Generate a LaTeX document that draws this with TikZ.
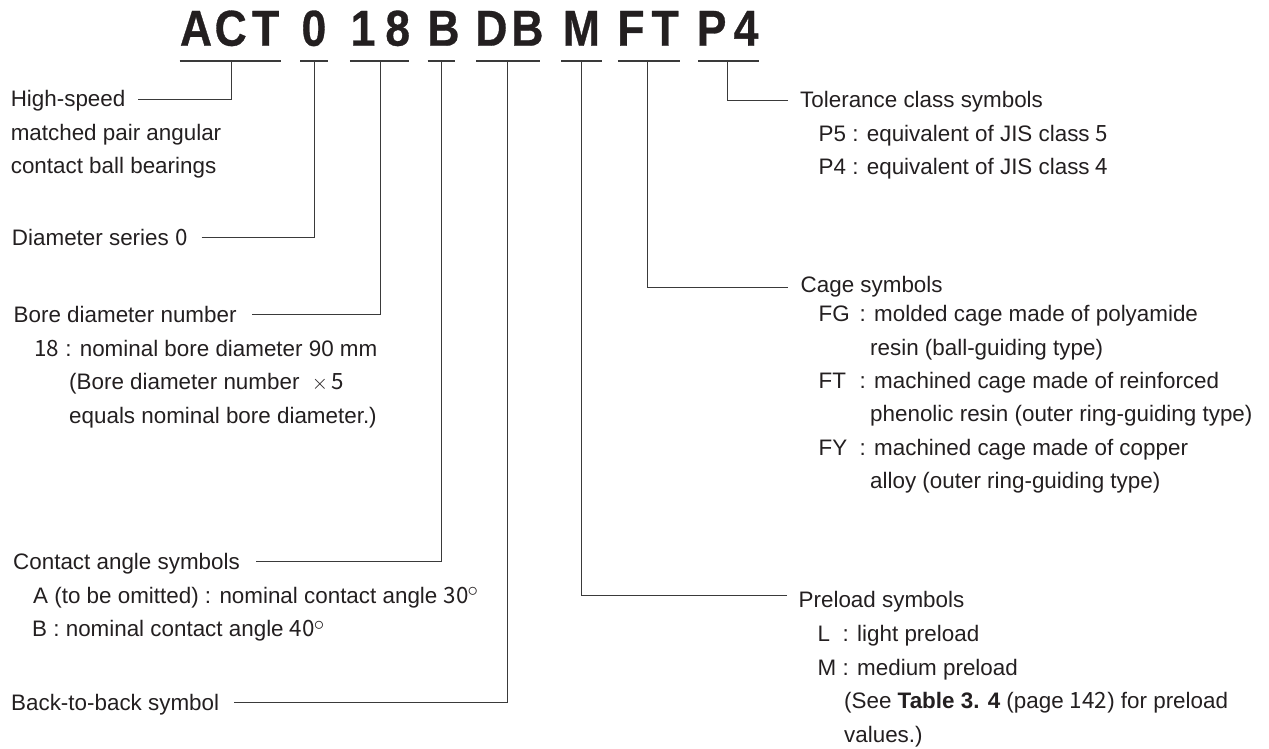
\documentclass[tikz,border=0pt]{standalone}
\usepackage{fontspec}
\setmainfont{Liberation Sans}
\newfontfamily\jd{Noto Sans CJK JP}
\newfontfamily\titlefont{Liberation Sans Bold}[FakeStretch=0.88,FakeBold=0.6]
\definecolor{ink}{HTML}{231F20}
\definecolor{wirec}{HTML}{3A3A3A}
\newcommand{\degr}{\kern-1pt\raisebox{6.5pt}{\fontsize{20}{20}\selectfont$\circ$}}
\begin{document}
\begin{tikzpicture}[x=1pt,y=-1pt,
  lbl/.style={anchor=base west, inner sep=0pt, font=\fontsize{22.4}{26}\selectfont, text=ink},
  big/.style={anchor=base, inner sep=0pt, font=\titlefont\fontsize{50.5}{50}\selectfont, text=ink},
  wire/.style={draw=wirec, line width=1.3pt},
  bar/.style={draw=wirec, line width=1.5pt}]
\useasboundingbox (0,0) rectangle (1269,748);

% ---- title letters ----
\node[big] (tA)  at (196,45.7)   {A};
\node[big] (tC)  at (230.7,45.7) {C};
\node[big] (tT)  at (265.7,45.7) {T};
\node[big] (t0)  at (313.9,45.7) {0};
\node[big] (t1)  at (363,45.7)   {1};
\node[big] (t8)  at (397.7,45.7) {8};
\node[big] (tB)  at (443.5,45.7) {B};
\node[big] (tD)  at (491.4,45.7) {D};
\node[big] (tBB) at (527.4,45.7) {B};
\node[big] (tM)  at (581.4,45.7) {M};
\node[big] (tF)  at (631,45.7)   {F};
\node[big] (tTT) at (665.2,45.7) {T};
\node[big] (tP)  at (711.6,45.7) {P};
\node[big] (t4)  at (746,45.7)   {4};

% ---- underline bars ----
\coordinate (actL) at (179.6,61); \coordinate (actR) at (281,61);   \coordinate (actV) at (231.2,61);
\coordinate (zerL) at (300,61);   \coordinate (zerR) at (327.7,61); \coordinate (zerV) at (314.3,61);
\coordinate (borL) at (349.9,61); \coordinate (borR) at (409.2,61); \coordinate (borV) at (380.5,61);
\coordinate (angL) at (427.6,61); \coordinate (angR) at (455,61);   \coordinate (angV) at (441.7,61);
\coordinate (dbL)  at (476,61);   \coordinate (dbR)  at (540.4,61); \coordinate (dbV)  at (507.5,61);
\coordinate (preL) at (561,61);   \coordinate (preR) at (601.7,61); \coordinate (preV) at (581.4,61);
\coordinate (cagL) at (617.8,61); \coordinate (cagR) at (680.1,61); \coordinate (cagV) at (647.6,61);
\coordinate (tolL) at (698.1,61); \coordinate (tolR) at (759.4,61); \coordinate (tolV) at (727.6,61);
\draw[bar] (actL) -- (actR);
\draw[bar] (zerL) -- (zerR);
\draw[bar] (borL) -- (borR);
\draw[bar] (angL) -- (angR);
\draw[bar] (dbL) -- (dbR);
\draw[bar] (preL) -- (preR);
\draw[bar] (cagL) -- (cagR);
\draw[bar] (tolL) -- (tolR);

% ---- left labels ----
\node[lbl] (hs1) at (10.6,106.5) {High-speed};
\node[lbl] (hs2) at (10.6,140)   {matched pair angular};
\node[lbl] (hs3) at (10.6,173.5) {contact ball bearings};

\node[lbl] (dia) at (11.8,245.5) {Diameter series {\jd 0}};

\node[lbl] (bo1) at (13.5,322.5) {Bore diameter number};
\node[lbl] (bo2) at (34,356)     {{\jd 18} : nominal bore diameter 90 mm};
\node[lbl] (bo3) at (69,389.5)   {(Bore diameter number\ \ $\times$\,{\jd 5}};
\node[lbl] (bo4) at (69,423)     {equals nominal bore diameter.)};

\node[lbl] (ca1) at (13,569.5) {Contact angle symbols};
\node[lbl] (ca2) at (33,603)   {A (to be omitted) : nominal contact angle {\jd 30}\degr};
\node[lbl] (ca3) at (32,636.5) {B : nominal contact angle {\jd 40}\degr};

\node[lbl] (btb) at (11,710.5) {Back-to-back symbol};

% ---- right labels ----
\node[lbl] (to1) at (800,107.5)  {Tolerance class symbols};
\node[lbl] (to2) at (818.5,141)  {P5 : equivalent of JIS class {\jd 5}};
\node[lbl] (to3) at (818.5,174.5){P4 : equivalent of JIS class {\jd 4}};

\node[lbl] (cg0) at (800.5,292.5){Cage symbols};
\node[lbl] (cg1) at (818.5,321.5){\makebox[41pt][l]{FG}: molded cage made of polyamide};
\node[lbl] (cg2) at (870,355)    {resin (ball-guiding type)};
\node[lbl] (cg3) at (818.5,388.3){\makebox[41pt][l]{FT}: machined cage made of reinforced};
\node[lbl] (cg4) at (870,421.7)  {phenolic resin (outer ring-guiding type)};
\node[lbl] (cg5) at (818.5,455)  {\makebox[41pt][l]{FY}: machined cage made of copper};
\node[lbl] (cg6) at (870,488.3)  {alloy (outer ring-guiding type)};

\node[lbl] (pr0) at (798.5,607)  {Preload symbols};
\node[lbl] (pr1) at (817.5,641)  {\makebox[25pt][l]{L}: light preload};
\node[lbl] (pr2) at (817.5,675)  {\makebox[25pt][l]{M}: medium preload};
\node[lbl] (pr3) at (844,708.5)  {(See \textbf{Table 3. 4} (page {\jd 142}) for preload};
\node[lbl] (pr4) at (844,742)    {values.)};

% ---- connector end points ----
\coordinate (hsE)  at (138,99.3);
\coordinate (diaE) at (201.7,237.3);
\coordinate (boE)  at (252,314.3);
\coordinate (caE)  at (256,561.7);
\coordinate (btbE) at (234,702.7);
\coordinate (toE)  at (788,100.3);
\coordinate (cgE)  at (787.7,287.3);
\coordinate (prE)  at (787,595.7);

% ---- connectors ----
\draw[wire] (hsE)  -| (actV);
\draw[wire] (diaE) -| (zerV);
\draw[wire] (boE)  -| (borV);
\draw[wire] (caE)  -| (angV);
\draw[wire] (btbE) -| (dbV);
\draw[wire] (toE)  -| (tolV);
\draw[wire] (cgE)  -| (cagV);
\draw[wire] (prE)  -| (preV);
\end{tikzpicture}
\end{document}
